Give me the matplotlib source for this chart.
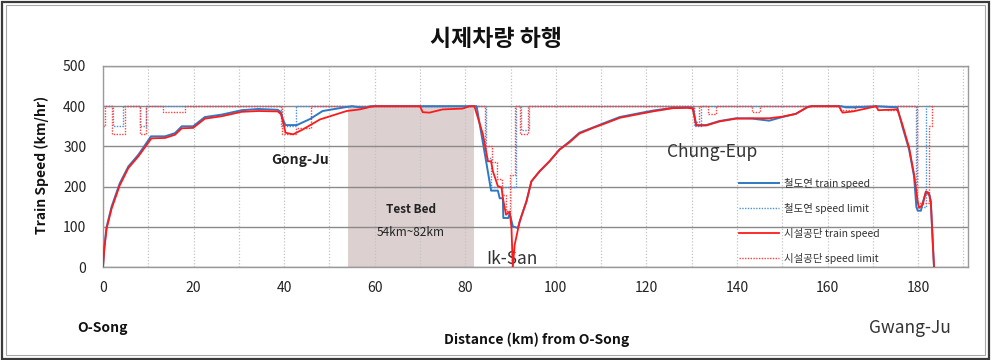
import matplotlib
matplotlib.use("Agg")
import matplotlib.pyplot as plt
from matplotlib.ticker import MultipleLocator
from matplotlib.patches import Rectangle

plt.rcParams['font.family'] = ['Noto Sans CJK KR', 'DejaVu Sans']

# ---- data (km, km/h) ----
krri_x = [0, 0.3, 0.8, 1.9, 3.7, 5.6, 7.8, 10.6, 13.7, 15.9, 17.4, 19.9, 22.5, 26.2, 30.6, 34.3,
          38.6, 39.3, 39.8, 40.3, 42.8, 45.7, 48.5, 53.8, 55, 56.7, 58.2, 59, 82, 82.5, 84.6, 85.7,
          87.2, 87.6, 88.3, 88.4, 89.5, 89.8, 90.5, 91.6, 92.5, 93.5, 94.6, 96.4, 98.6, 100.8, 103,
          105.2, 108.2, 111.1, 114.1, 117.7, 121.4, 125.8, 129.1, 130.3, 131, 133.2, 136.1, 139.8,
          143.4, 147.1, 150, 153, 155.6, 156.5, 163, 164, 166, 170.7, 175.4, 176.5, 178, 179.1,
          179.6, 179.9, 180.6, 181, 181.7, 182.5, 182.8, 183.2, 183.5]
krri_v = [0, 50, 100, 150, 208, 250, 279, 325, 325, 333, 350, 350, 373, 379, 390, 393,
          391, 385, 365, 353, 353, 368, 388, 398, 400, 397, 397, 400, 400, 400, 263, 190,
          190, 171, 171, 122, 122, 134, 101, 97, 130, 163, 213, 238, 263, 292, 312,
          334, 347, 360, 373, 381, 389, 396, 397, 395, 353, 353, 363, 370,
          369, 364, 373, 381, 398, 400, 400, 397, 397, 400, 397, 350, 292, 225,
          150, 140, 140, 160, 185, 180, 160, 72, 0]

kr_x = [0, 0.3, 0.8, 1.9, 3.7, 5.6, 7.8, 10.7, 13.7, 15.9, 17.4, 19.9, 22.5, 26.2, 30.6, 34.3,
        38.6, 39.3, 39.8, 40.3, 42, 44.1, 47.9, 53.8, 56.7, 58.9, 60, 70, 70.6, 72.1, 75, 79.4,
        81, 82, 83.9, 85, 85.7, 86.1, 87.2, 88, 88.3, 89, 89.8, 90.2, 90.5, 90.9, 92, 93.5, 94.6,
        96.4, 98.6, 100.8, 103, 105.2, 108.2, 111.1, 114.1, 117.7, 121.4, 125.8, 129.1, 130.2,
        131, 133.2, 136.1, 139.8, 143.4, 147.1, 150, 153, 155.6, 156.5, 162.5, 163.3, 165.6,
        170, 170.7, 171.2, 175.4, 176.5, 178, 179.1, 179.9, 180.2, 181, 181.7, 182.3, 182.8,
        183.2, 183.5]
kr_v = [0, 45, 95, 145, 203, 246, 275, 320, 321, 329, 345, 346, 369, 375, 386, 388,
        387, 380, 360, 334, 330, 342, 367, 388, 392, 398, 400, 400, 385, 384, 392, 394,
        400, 400, 330, 263, 263, 238, 201, 198, 172, 130, 138, 97, 0, 55, 113, 163, 213,
        238, 263, 292, 310, 332, 346, 358, 371, 379, 387, 395, 396, 394,
        352, 352, 362, 369, 370, 370, 374, 381, 398, 400, 400, 384, 387,
        398, 400, 390, 392, 355, 297, 230, 163, 147, 155, 188, 185, 163,
        63, 0]

krri_lim_x = [0, 2.3, 4.5, 8.2, 9.6, 39.3, 42.7, 84.6, 85.6, 91.2, 92.3, 94.0,
              130.6, 132.1, 179.5, 181.8, 183.5]
krri_lim_v = [400, 350, 400, 350, 400, 350, 400, 270, 200, 400, 340, 400,
              350, 400, 150, 400, 400]

kr_lim_x = [0, 0.4, 1.9, 4.9, 8.2, 9.6, 13.3, 18.1, 39.6, 42.7, 45.9, 84.3, 85.8, 86.9,
            88, 89, 89.8, 90.9, 92, 93.8, 130.5, 131.6, 133.5, 135.4, 143.4, 145, 162.8,
            166, 173, 175, 179.8, 182.3, 183, 183.5]
kr_lim_v = [350, 400, 330, 400, 330, 400, 385, 400, 330, 345, 400, 300, 260, 220,
            180, 140, 230, 400, 330, 400, 360, 400, 380, 400, 385, 400, 390,
            400, 390, 400, 160, 350, 400, 400]

test_bed = (54, 82)
y_ticks = [0, 100, 200, 300, 400, 500]
x_ticks = [0, 20, 40, 60, 80, 100, 120, 140, 160, 180]

labels = ['철도연 train speed', '철도연 speed limit', '시설공단 train speed', '시설공단 speed limit']

BLUE = '#2f78c4'
RED = '#ff1a1a'

fig = plt.figure(figsize=(9.93, 3.6), dpi=100)
ax = fig.add_axes([0.1037, 0.2583, 0.8711, 0.5584])

ax.set_xlim(0, 191)
ax.set_ylim(0, 500)
ax.set_xticks(x_ticks)
ax.set_yticks(y_ticks)
ax.xaxis.set_minor_locator(MultipleLocator(10))
ax.tick_params(which='both', length=0, labelsize=10, colors='#222222')
ax.tick_params(axis='x', pad=10)
ax.tick_params(axis='y', pad=12)
ax.set_axisbelow(True)
ax.grid(axis='y', which='major', color='#8a8a8a', lw=1.0, ls='-')
ax.grid(axis='x', which='both', color='#c4c4c4', lw=0.9, ls=(0, (1, 1.5)))
for s in ['left', 'bottom', 'top', 'right']:
    ax.spines[s].set_color('#9a9a9a')
    ax.spines[s].set_linewidth(1.0)

ax.add_patch(Rectangle((test_bed[0], 0), test_bed[1] - test_bed[0], 400,
                       facecolor='#ddd0d0', edgecolor='none', zorder=0.2))

l2, = ax.plot(krri_lim_x, krri_lim_v, color='#4a90d9', lw=1.0, ls=(0, (1, 1)),
              drawstyle='steps-post', label=labels[1], zorder=2)
l4, = ax.plot(kr_lim_x, kr_lim_v, color='#ff4040', lw=1.0, ls=(0, (1, 1)),
              drawstyle='steps-post', label=labels[3], zorder=2)
l1, = ax.plot(krri_x, krri_v, color=BLUE, lw=1.4, label=labels[0], zorder=3)
l3, = ax.plot(kr_x, kr_v, color=RED, lw=1.3, label=labels[2], zorder=4)

ax.text(43.5, 267, 'Gong-Ju', fontsize=10, fontweight='bold', ha='center', va='center', color='#222222')
ax.text(134.6, 285, 'Chung-Eup', fontsize=12.5, ha='center', va='center', color='#333333')
ax.text(90.4, 20, 'Ik-San', fontsize=12.5, ha='center', va='center', color='#333333')
ax.text(68, 142, 'Test Bed', fontsize=8.5, fontweight='bold', ha='center', va='center', color='#222222')
ax.text(68, 87, '54km~82km', fontsize=8.5, ha='center', va='center', color='#222222')

leg = fig.legend(handles=[l1, l2, l3, l4], loc='upper left', bbox_to_anchor=(0.7442, 0.506),
                 frameon=False, fontsize=7.5, handlelength=3.8, handletextpad=0.5,
                 labelspacing=1.35, borderpad=0, borderaxespad=0)
for t in leg.get_texts():
    t.set_color('#333333')

fig.text(0.5, 0.889, '시제차량 하행', fontsize=16.5, fontweight='bold', ha='center', va='center', color='#111111')
fig.text(0.042, 0.542, 'Train Speed (km/hr)', fontsize=10, fontweight='bold', rotation=90,
         ha='center', va='center', color='#111111')
fig.text(0.5408, 0.0556, 'Distance (km) from O-Song', fontsize=10, fontweight='bold',
         ha='center', va='center', color='#111111')
fig.text(0.1037, 0.089, 'O-Song', fontsize=10, fontweight='bold', ha='center', va='center', color='#111111')
fig.text(0.9164, 0.089, 'Gwang-Ju', fontsize=12.5, ha='center', va='center', color='#333333')

# chart-area border
fig.patches.append(Rectangle((0.002, 0.004), 0.994, 0.99, transform=fig.transFigure,
                             fill=False, edgecolor='#3a3a3a', lw=1.6))
fig.patches.append(Rectangle((0.0065, 0.014), 0.985, 0.972, transform=fig.transFigure,
                             fill=False, edgecolor='#a8a8a8', lw=0.8))

fig.savefig('out.png', dpi=100)
